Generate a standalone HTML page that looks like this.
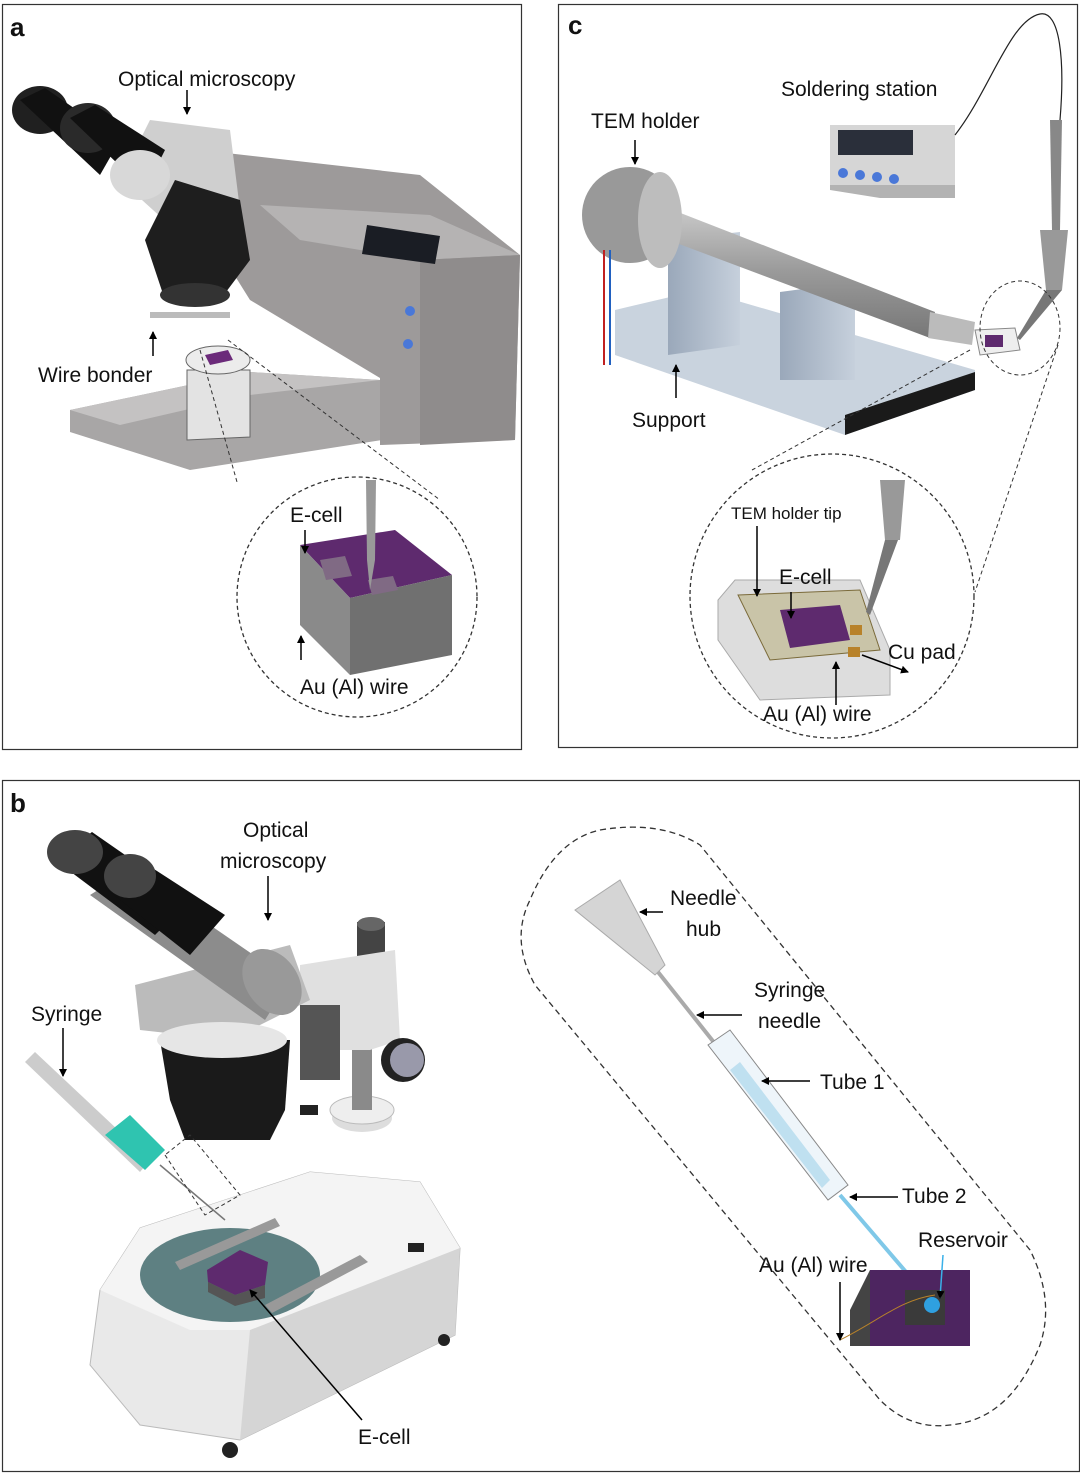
<!DOCTYPE html>
<html><head><style>
html,body{margin:0;padding:0;background:#fff}
svg{display:block}
text{font-family:"Liberation Sans",sans-serif;fill:#111}
</style></head><body>
<svg width="1080" height="1476" viewBox="0 0 1080 1476" xmlns="http://www.w3.org/2000/svg">
<defs>
<marker id="ar" markerWidth="8" markerHeight="8" refX="7" refY="4" orient="auto" markerUnits="userSpaceOnUse"><path d="M0,0 L8,4 L0,8 z" fill="#000"/></marker>
<linearGradient id="rod" x1="0" y1="0" x2="0" y2="1"><stop offset="0" stop-color="#ccc"/><stop offset="0.5" stop-color="#9a9a9a"/><stop offset="1" stop-color="#777"/></linearGradient>
<linearGradient id="blk" x1="0" y1="0" x2="1" y2="0"><stop offset="0" stop-color="#9aa8ba"/><stop offset="1" stop-color="#c6d0dc"/></linearGradient>
</defs>
<!-- panel frames -->
<rect x="2.5" y="4.5" width="519" height="745" fill="none" stroke="#333" stroke-width="1.2"/>
<rect x="558.5" y="4.5" width="519" height="743" fill="none" stroke="#333" stroke-width="1.2"/>
<rect x="2.5" y="780.5" width="1077" height="691" fill="none" stroke="#333" stroke-width="1.2"/>
<text x="10" y="36" font-size="26" font-weight="bold">a</text>
<text x="568" y="34" font-size="26" font-weight="bold">c</text>
<text x="10" y="812" font-size="26" font-weight="bold">b</text>

<!-- ===== Panel a ===== -->
<polygon points="70,410 250,372 380,380 382,440 190,470 70,432" fill="#a8a6a6"/>
<polygon points="70,410 250,372 380,380 250,395 120,425" fill="#c4c2c2"/>
<polygon points="200,150 420,175 520,255 515,440 380,445 380,378 250,300 200,220" fill="#9d9a9a"/>
<polygon points="260,205 430,215 520,255 420,260 300,240" fill="#b5b3b3"/>
<polygon points="420,260 520,255 515,440 420,445" fill="#8f8c8c"/>
<polygon points="367,225 440,236 435,264 362,254" fill="#1a1d24"/>
<circle cx="410" cy="311" r="5" fill="#4a78d8"/>
<circle cx="408" cy="344" r="5" fill="#4a78d8"/>
<polygon points="150,120 230,130 240,210 175,230 120,180" fill="#cfcfcf"/>
<polygon points="175,180 240,200 250,260 220,300 165,300 145,240" fill="#1e1e1e"/>
<ellipse cx="195" cy="295" rx="35" ry="12" fill="#333"/>
<ellipse cx="40" cy="110" rx="28" ry="24" fill="#202020"/>
<polygon points="20,100 45,88 120,140 100,175" fill="#111"/>
<ellipse cx="88" cy="128" rx="28" ry="25" fill="#2a2a2a"/>
<polygon points="70,118 95,105 165,150 145,190" fill="#111"/>
<ellipse cx="140" cy="175" rx="30" ry="25" fill="#d8d8d8"/>
<rect x="150" y="312" width="80" height="6" fill="#bbb"/>
<polygon points="187,370 250,370 250,437 187,440" fill="#e3e3e3" stroke="#666"/>
<ellipse cx="218" cy="360" rx="32" ry="14" fill="#ececec" stroke="#666"/>
<polygon points="205,355 228,350 233,360 210,365" fill="#6b2a7a"/>
<text x="118" y="86" font-size="21">Optical microscopy</text>
<line x1="187" y1="90" x2="187" y2="114" stroke="#000" stroke-width="1.5" marker-end="url(#ar)"/>
<text x="38" y="382" font-size="21">Wire bonder</text>
<line x1="153" y1="356" x2="153" y2="332" stroke="#000" stroke-width="1.5" marker-end="url(#ar)"/>
<line x1="200" y1="350" x2="237" y2="482" stroke="#333" stroke-dasharray="4,3"/>
<line x1="228" y1="340" x2="440" y2="500" stroke="#333" stroke-dasharray="4,3"/>
<circle cx="357" cy="597" r="120" fill="none" stroke="#333" stroke-dasharray="4,3" stroke-width="1.3"/>
<polygon points="300,545 395,530 452,575 350,598" fill="#5e2a6e"/>
<polygon points="300,545 350,598 350,675 300,625" fill="#8a8a8a"/>
<polygon points="350,598 452,575 452,655 350,675" fill="#707070"/>
<polygon points="320,560 345,556 352,576 326,580" fill="#806a84"/>
<polygon points="368,580 393,576 398,590 372,595" fill="#806a84"/>
<polygon points="366,480 376,480 375,560 370,590 367,560" fill="#999"/>
<text x="290" y="522" font-size="21">E-cell</text>
<line x1="305" y1="530" x2="305" y2="553" stroke="#000" stroke-width="1.5" marker-end="url(#ar)"/>
<text x="300" y="694" font-size="21">Au (Al) wire</text>
<line x1="301" y1="660" x2="301" y2="636" stroke="#000" stroke-width="1.5" marker-end="url(#ar)"/>

<!-- ===== Panel c ===== -->
<polygon points="615,310 700,290 975,370 975,390 845,435 615,355" fill="#c9d3de"/>
<polygon points="845,415 975,372 975,390 845,435" fill="#1a1a1a"/>
<polygon points="668,240 740,232 740,345 668,355" fill="url(#blk)"/>
<polygon points="780,292 855,282 855,380 780,380" fill="url(#blk)"/>
<path d="M660,205 L935,312 L930,338 L655,235 Z" fill="url(#rod)"/>
<path d="M930,312 L975,322 L972,345 L928,338 Z" fill="#bbb"/>
<ellipse cx="630" cy="215" rx="48" ry="48" fill="#999"/>
<ellipse cx="660" cy="220" rx="22" ry="48" fill="#bdbdbd"/>
<line x1="604" y1="250" x2="604" y2="365" stroke="#c02020" stroke-width="2"/>
<line x1="610" y1="250" x2="610" y2="365" stroke="#2060c0" stroke-width="2"/>
<polygon points="975,330 1015,328 1020,350 980,355" fill="#eee" stroke="#888"/>
<rect x="985" y="335" width="18" height="12" fill="#5e2a6e"/>
<rect x="830" y="125" width="125" height="60" fill="#d6d6d6"/>
<polygon points="830,185 955,185 955,198 880,198 830,190" fill="#b3b3b3"/>
<rect x="838" y="130" width="75" height="25" fill="#2a2f3a"/>
<circle cx="843" cy="173" r="5" fill="#4a78d8"/><circle cx="860" cy="175" r="5" fill="#4a78d8"/><circle cx="877" cy="177" r="5" fill="#4a78d8"/><circle cx="894" cy="179" r="5" fill="#4a78d8"/>
<path d="M955,135 C990,90 1010,20 1040,14 C1060,10 1065,60 1060,120" fill="none" stroke="#222" stroke-width="1.2"/>
<polygon points="1050,120 1062,120 1060,230 1052,230" fill="#888"/>
<polygon points="1040,230 1068,230 1062,290 1046,290" fill="#999"/>
<polygon points="1046,290 1062,290 1020,340 1017,338" fill="#777"/>
<text x="781" y="96" font-size="21">Soldering station</text>
<text x="591" y="128" font-size="21">TEM holder</text>
<line x1="635" y1="140" x2="635" y2="164" stroke="#000" stroke-width="1.5" marker-end="url(#ar)"/>
<text x="632" y="427" font-size="21">Support</text>
<line x1="676" y1="398" x2="676" y2="365" stroke="#000" stroke-width="1.5" marker-end="url(#ar)"/>
<ellipse cx="1020" cy="328" rx="40" ry="47" fill="none" stroke="#333" stroke-dasharray="4,3"/>
<line x1="970" y1="350" x2="752" y2="470" stroke="#333" stroke-dasharray="4,3"/>
<line x1="1058" y1="345" x2="975" y2="592" stroke="#333" stroke-dasharray="4,3"/>
<circle cx="832" cy="596" r="142" fill="none" stroke="#333" stroke-dasharray="4,3" stroke-width="1.3"/>
<polygon points="735,580 860,580 890,650 890,695 760,700 718,640 718,600" fill="#ddd" stroke="#aaa"/>
<polygon points="738,595 860,590 880,650 770,660" fill="#c9c4a8" stroke="#7a6a3a"/>
<polygon points="780,610 840,605 850,640 790,648" fill="#5e2a6e"/>
<rect x="850" y="625" width="12" height="10" fill="#b8822a"/>
<rect x="848" y="647" width="12" height="10" fill="#b8822a"/>
<polygon points="880,480 905,480 900,540 885,540" fill="#999"/>
<polygon points="885,540 898,540 870,615 866,612" fill="#777"/>
<text x="731" y="519" font-size="17">TEM holder tip</text>
<line x1="757" y1="526" x2="757" y2="596" stroke="#000" stroke-width="1.5" marker-end="url(#ar)"/>
<text x="779" y="584" font-size="21">E-cell</text>
<line x1="791" y1="592" x2="791" y2="618" stroke="#000" stroke-width="1.5" marker-end="url(#ar)"/>
<text x="888" y="659" font-size="21">Cu pad</text>
<line x1="862" y1="655" x2="908" y2="672" stroke="#000" stroke-width="1.5" marker-end="url(#ar)"/>
<text x="763" y="721" font-size="21">Au (Al) wire</text>
<line x1="836" y1="705" x2="836" y2="662" stroke="#000" stroke-width="1.5" marker-end="url(#ar)"/>

<!-- ===== Panel b ===== -->
<polygon points="140,1228 310,1172 420,1182 460,1248 455,1335 240,1440 140,1425 90,1365 100,1290" fill="#e9e9e9" stroke="#bbb"/>
<polygon points="100,1290 140,1228 310,1172 420,1182 460,1248 255,1330 190,1330" fill="#f4f4f4"/>
<polygon points="250,1330 460,1248 455,1335 240,1440" fill="#d5d5d5"/>
<ellipse cx="230" cy="1275" rx="90" ry="47" fill="#5e8082"/>
<circle cx="230" cy="1450" r="8" fill="#222"/><circle cx="444" cy="1340" r="6" fill="#222"/>
<polygon points="175,1262 275,1218 280,1226 180,1270" fill="#999"/>
<polygon points="265,1305 360,1255 368,1262 272,1313" fill="#999"/>
<rect x="300" y="1105" width="18" height="10" fill="#222"/><rect x="408" y="1243" width="16" height="9" fill="#222"/>
<ellipse cx="362" cy="1118" rx="30" ry="14" fill="#ddd"/>
<ellipse cx="362" cy="1110" rx="32" ry="14" fill="#eee" stroke="#bbb"/>
<rect x="352" y="1030" width="20" height="80" fill="#8a8a8a"/>
<rect x="357" y="922" width="28" height="45" fill="#444"/>
<ellipse cx="371" cy="924" rx="14" ry="7" fill="#666"/>
<polygon points="300,965 395,950 400,1040 370,1050 300,1050" fill="#e0e0e0"/>
<polygon points="300,1005 340,1005 340,1080 300,1080" fill="#555"/>
<circle cx="403" cy="1060" r="22" fill="#222"/><circle cx="407" cy="1060" r="17" fill="#99a"/>
<polygon points="135,985 290,945 310,1000 230,1040 140,1030" fill="#bbb"/>
<polygon points="160,1040 290,1040 285,1110 270,1140 185,1140 170,1100" fill="#1a1a1a"/>
<ellipse cx="222" cy="1040" rx="65" ry="18" fill="#e6e6e6"/>
<polygon points="90,895 130,870 290,980 265,1020" fill="#8c8c8c"/>
<ellipse cx="272" cy="982" rx="26" ry="36" transform="rotate(-35 272 982)" fill="#999"/>
<polygon points="55,860 92,832 190,900 155,935" fill="#111"/>
<ellipse cx="75" cy="852" rx="28" ry="22" fill="#444"/>
<polygon points="105,888 140,860 225,915 190,955" fill="#111"/>
<ellipse cx="130" cy="876" rx="26" ry="22" fill="#444"/>
<polygon points="25,1062 35,1052 150,1160 140,1172" fill="#ccc"/>
<polygon points="105,1135 130,1115 165,1150 145,1170" fill="#2fc4b0"/>
<line x1="160" y1="1165" x2="225" y2="1220" stroke="#777" stroke-width="1.5"/>
<polygon points="165,1155 205,1215 240,1195 190,1135" fill="none" stroke="#333" stroke-dasharray="4,3" transform="rotate(0)"/>
<polygon points="207,1270 240,1250 268,1262 265,1285 235,1295 208,1282" fill="#5e2a6e"/>
<polygon points="208,1282 235,1295 265,1285 265,1298 235,1306 208,1292" fill="#555"/>
<text x="243" y="837" font-size="21">Optical</text>
<text x="220" y="868" font-size="21">microscopy</text>
<line x1="268" y1="876" x2="268" y2="920" stroke="#000" stroke-width="1.5" marker-end="url(#ar)"/>
<text x="31" y="1021" font-size="21">Syringe</text>
<line x1="63" y1="1028" x2="63" y2="1076" stroke="#000" stroke-width="1.5" marker-end="url(#ar)"/>
<text x="358" y="1444" font-size="21">E-cell</text>
<line x1="362" y1="1420" x2="250" y2="1290" stroke="#000" stroke-width="1.5" marker-end="url(#ar)"/>

<!-- right zoom -->
<path d="M600,830 Q660,820 700,845 L1030,1250 Q1055,1300 1040,1345 Q1010,1420 950,1425 Q910,1430 880,1400 L535,985 Q510,940 530,900 Q555,840 600,830 Z" fill="none" stroke="#333" stroke-dasharray="6,4" stroke-width="1.3"/>
<polygon points="575,910 620,880 665,965 655,975" fill="#d5d5d5" stroke="#aaa"/>
<line x1="658" y1="972" x2="720" y2="1050" stroke="#aaa" stroke-width="4"/>
<polygon points="708,1045 730,1030 848,1185 828,1200" fill="#eef5fa" stroke="#888"/>
<polygon points="730,1070 740,1062 830,1180 822,1188" fill="#bfe0f0"/>
<line x1="840" y1="1195" x2="930" y2="1300" stroke="#7fc8e8" stroke-width="4"/>
<polygon points="870,1270 970,1270 970,1346 870,1346" fill="#4d2560"/>
<polygon points="850,1310 870,1270 870,1346 850,1346" fill="#444"/>
<polygon points="905,1290 945,1290 945,1325 905,1325" fill="#3a3a3a"/>
<circle cx="932" cy="1305" r="8" fill="#2fa0e0"/>
<path d="M840,1340 C880,1320 900,1300 935,1295" fill="none" stroke="#b8822a" stroke-width="1"/>
<text x="670" y="905" font-size="21">Needle</text>
<text x="686" y="936" font-size="21">hub</text>
<line x1="663" y1="912" x2="640" y2="912" stroke="#000" stroke-width="1.5" marker-end="url(#ar)"/>
<text x="754" y="997" font-size="21">Syringe</text>
<text x="758" y="1028" font-size="21">needle</text>
<line x1="742" y1="1015" x2="697" y2="1015" stroke="#000" stroke-width="1.5" marker-end="url(#ar)"/>
<text x="820" y="1089" font-size="21">Tube 1</text>
<line x1="810" y1="1081" x2="762" y2="1081" stroke="#000" stroke-width="1.5" marker-end="url(#ar)"/>
<text x="902" y="1203" font-size="21">Tube 2</text>
<line x1="898" y1="1197" x2="850" y2="1197" stroke="#000" stroke-width="1.5" marker-end="url(#ar)"/>
<text x="918" y="1247" font-size="21">Reservoir</text>
<line x1="943" y1="1255" x2="940" y2="1298" stroke="#3ab0e8" stroke-width="1.5" marker-end="url(#ar)"/>
<text x="759" y="1272" font-size="21">Au (Al) wire</text>
<line x1="840" y1="1282" x2="840" y2="1340" stroke="#000" stroke-width="1.5" marker-end="url(#ar)"/>
</svg>
</body></html>
